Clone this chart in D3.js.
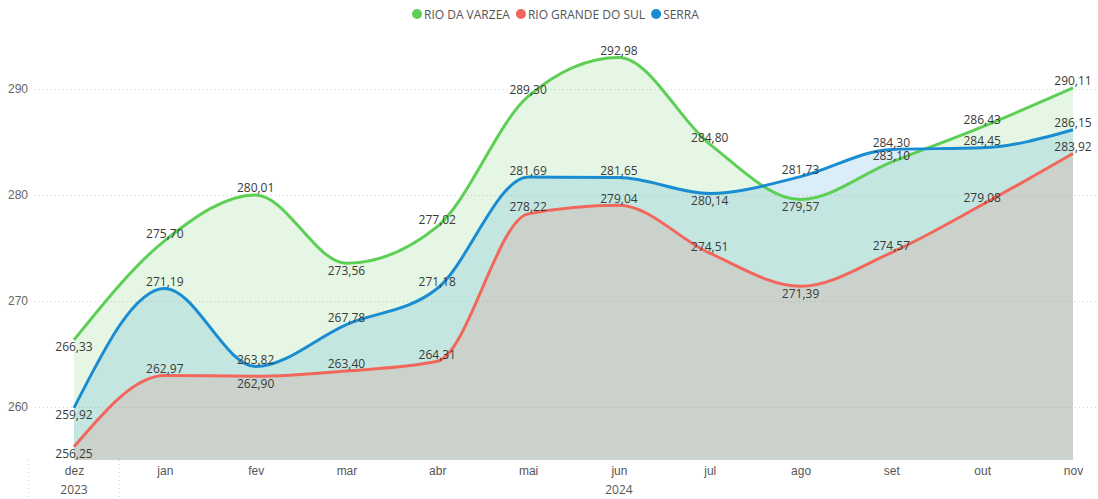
<!DOCTYPE html>
<html>
<head>
<meta charset="utf-8">
<script src="https://cdn.jsdelivr.net/npm/d3@7"></script>
<style>
    body { margin: 0; background: #fff; }
    svg { font-family: "Segoe UI", "Open Sans", sans-serif; }
</style>
</head>
<body>
<svg id="chart" width="1098" height="499"></svg>
<script>
const months = ["dez", "jan", "fev", "mar", "abr", "mai", "jun", "jul", "ago", "set", "out", "nov"];
const years = ["2023", "2024", "2024", "2024", "2024", "2024", "2024", "2024", "2024", "2024", "2024", "2024"];
const seriesNames = ["RIO DA VARZEA", "RIO GRANDE DO SUL", "SERRA"];
const rioDaVarzea = [266.33, 275.70, 280.01, 273.56, 277.02, 289.30, 292.98, 284.80, 279.57, 283.10, 286.43, 290.11];
const rioGrandeDoSul = [256.25, 262.97, 262.90, 263.40, 264.31, 278.22, 279.04, 274.51, 271.39, 274.57, 279.08, 283.92];
const serra = [259.92, 271.19, 263.82, 267.78, 271.18, 281.69, 281.65, 280.14, 281.73, 284.30, 284.45, 286.15];
const yTicks = [260, 270, 280, 290];

const colors = ["#5ECF56", "#F2675C", "#1A8CD2"];
const series = [rioDaVarzea, rioGrandeDoSul, serra].map((values, i) => ({
    name: seriesNames[i],
    color: colors[i],
    values: values
}));

const svg = d3.select("#chart"),
    width = +svg.attr("width");

const plotLeft = 35, plotBottom = 460;
const x = d3.scalePoint().domain(months).range([74, 1073]);
const y = d3.scaleLinear().domain([255, 295]).range([plotBottom, 36]);

const br = d3.formatLocale({ decimal: ",", thousands: ".", grouping: [3], currency: ["R$", ""] });
const fmt = br.format(".2f");

// gridlines + y labels
const yAxis = svg.append("g")
    .attr("transform", "translate(" + plotLeft + ",0)")
    .call(d3.axisLeft(y).tickValues(yTicks).tickSize(-(width - plotLeft)).tickPadding(7).tickFormat(d3.format("d")));
yAxis.select(".domain").remove();
yAxis.selectAll("line").attr("stroke", "#d4d4d4").attr("stroke-dasharray", "1,3");
yAxis.selectAll("text").attr("fill", "#666").style("font-size", "12px").style("font-family", "inherit");

// areas and lines
const area = d3.area()
    .x((d, i) => x(months[i]))
    .y0(plotBottom)
    .y1(d => y(d))
    .curve(d3.curveMonotoneX);
const line = d3.line()
    .x((d, i) => x(months[i]))
    .y(d => y(d))
    .curve(d3.curveMonotoneX);

svg.append("g").selectAll("path")
    .data([series[0], series[2], series[1]])
    .enter().append("path")
    .attr("d", d => area(d.values))
    .attr("fill", d => d.color)
    .attr("fill-opacity", 0.16);

svg.append("g").selectAll("path")
    .data(series)
    .enter().append("path")
    .attr("d", d => line(d.values))
    .attr("fill", "none")
    .attr("stroke", d => d.color)
    .attr("stroke-width", 3);

// data labels: below local minimum, above otherwise, flip when crowding another label
const placed = [];
series.forEach(s => {
    s.values.forEach((v, i) => {
        const prev = s.values[i - 1], next = s.values[i + 1];
        const isMin = (prev === undefined || v < prev) && (next === undefined || v < next);
        const py = y(v);
        let ly = isMin ? py + 7 : py - 7;
        if (isMin && placed.some(p => p.i === i && Math.abs(p.y - ly) < 14)) ly = py - 7;
        placed.push({ i: i, y: ly, v: v });
    });
});
svg.append("g").selectAll("text")
    .data(placed)
    .enter().append("text")
    .attr("x", d => x(months[d.i]))
    .attr("y", d => d.y)
    .attr("text-anchor", "middle")
    .attr("dominant-baseline", "central")
    .attr("fill", "#3a3a3a")
    .style("font-size", "12px")
    .text(d => fmt(d.v));

// x axis: months + years
const xAxis = svg.append("g")
    .attr("transform", "translate(0," + plotBottom + ")")
    .call(d3.axisBottom(x).tickSize(0).tickPadding(6));
xAxis.select(".domain").remove();
xAxis.selectAll("text").attr("fill", "#555").style("font-size", "12px").style("font-family", "inherit");

const yearGroups = d3.groups(months.map((m, i) => ({ m: m, year: years[i] })), d => d.year);
const step = x.step();
yearGroups.forEach(([year, items]) => {
    const x0 = x(items[0].m), x1 = x(items[items.length - 1].m);
    svg.append("text")
        .attr("x", (x0 + x1) / 2)
        .attr("y", 494)
        .attr("text-anchor", "middle")
        .attr("fill", "#555")
        .style("font-size", "12px")
        .text(year);
    svg.append("line")
        .attr("x1", x0 - step / 2).attr("x2", x0 - step / 2)
        .attr("y1", plotBottom).attr("y2", 499)
        .attr("stroke", "#d4d4d4")
        .attr("stroke-dasharray", "1,3");
});

// legend
const legend = svg.append("g").attr("transform", "translate(412,14)");
let lx = 0;
series.forEach(s => {
    legend.append("circle").attr("cx", lx + 5).attr("cy", 0).attr("r", 5).attr("fill", s.color);
    const t = legend.append("text")
        .attr("x", lx + 12)
        .attr("y", 0)
        .attr("dominant-baseline", "central")
        .attr("fill", "#555")
        .style("font-size", "12px")
        .text(s.name);
    lx += 12 + t.node().getComputedTextLength() + 6;
});
</script>
</body>
</html>
